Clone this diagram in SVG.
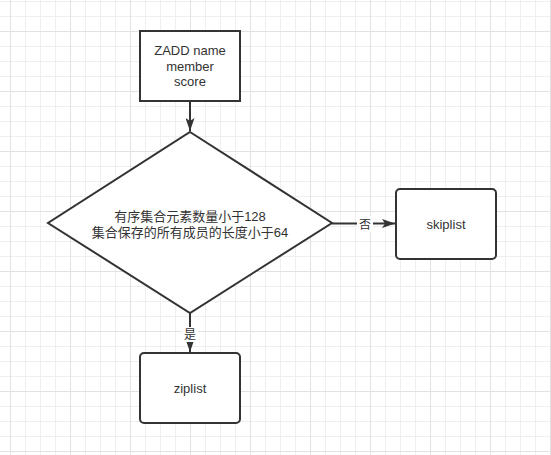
<svg xmlns="http://www.w3.org/2000/svg" width="551" height="455" viewBox="0 0 551 455">
  <style>
    .shape { fill: #ffffff; stroke: #333333; stroke-width: 2; }
    .edge { fill: none; stroke: #333333; stroke-width: 2; }
    .txt { font-family: "Liberation Sans", "Noto Sans CJK SC", sans-serif; font-size: 13px; fill: #333333; text-anchor: middle; }
    .lbl { font-family: "Noto Sans CJK SC", "Liberation Sans", sans-serif; font-size: 12px; fill: #333333; text-anchor: middle; }
  </style>
  <defs>
    <pattern id="minor" patternUnits="userSpaceOnUse" x="10" y="1" width="15" height="15">
      <path d="M0.5 0 V15 M0 0.5 H15" stroke="#efefef" stroke-width="1" fill="none"/>
    </pattern>
    <pattern id="major" patternUnits="userSpaceOnUse" x="10" y="31" width="60" height="60">
      <path d="M0.5 0 V60 M0 0.5 H60" stroke="#e2e2e2" stroke-width="1" fill="none"/>
    </pattern>
    <marker id="arrow" viewBox="0 0 13 9" refX="13" refY="4.5" markerWidth="13" markerHeight="9" markerUnits="userSpaceOnUse" orient="auto">
      <path d="M0 0 L13 4.5 L0 9 L3 4.5 Z" fill="#333333"/>
    </marker>
  </defs>
  <rect width="551" height="455" fill="#ffffff"/>
  <rect width="551" height="455" fill="url(#minor)"/>
  <rect width="551" height="455" fill="url(#major)"/>

  <g id="connectors">
    <line class="edge" x1="190" y1="101" x2="190" y2="131" marker-end="url(#arrow)"/>
    <line class="edge" x1="332" y1="223.5" x2="395" y2="223.5" marker-end="url(#arrow)"/>
    <line class="edge" x1="190" y1="313" x2="190" y2="352" marker-end="url(#arrow)"/>
    <rect x="357" y="216" width="16" height="16" fill="#ffffff"/>
    <text class="lbl" x="365" y="229">否</text>
    <rect x="182" y="327" width="16" height="15" fill="#ffffff"/>
    <text class="lbl" x="190" y="339">是</text>
  </g>

  <g id="node-zadd">
    <rect class="shape" x="140" y="31" width="100" height="70"/>
    <text class="txt" x="190" y="55">ZADD name</text>
    <text class="txt" x="190" y="71">member</text>
    <text class="txt" x="190" y="86">score</text>
  </g>

  <g id="node-decision">
    <polygon class="shape" points="190,132 332,223 190,313 48,223"/>
    <text class="txt" x="190" y="221">有序集合元素数量小于128</text>
    <text class="txt" x="190" y="237">集合保存的所有成员的长度小于64</text>
  </g>

  <g id="node-skiplist">
    <rect class="shape" x="396" y="189" width="100" height="70" rx="4" ry="4"/>
    <text class="txt" x="446" y="229">skiplist</text>
  </g>

  <g id="node-ziplist">
    <rect class="shape" x="140" y="353" width="100" height="70" rx="4" ry="4"/>
    <text class="txt" x="190" y="393">ziplist</text>
  </g>
</svg>
